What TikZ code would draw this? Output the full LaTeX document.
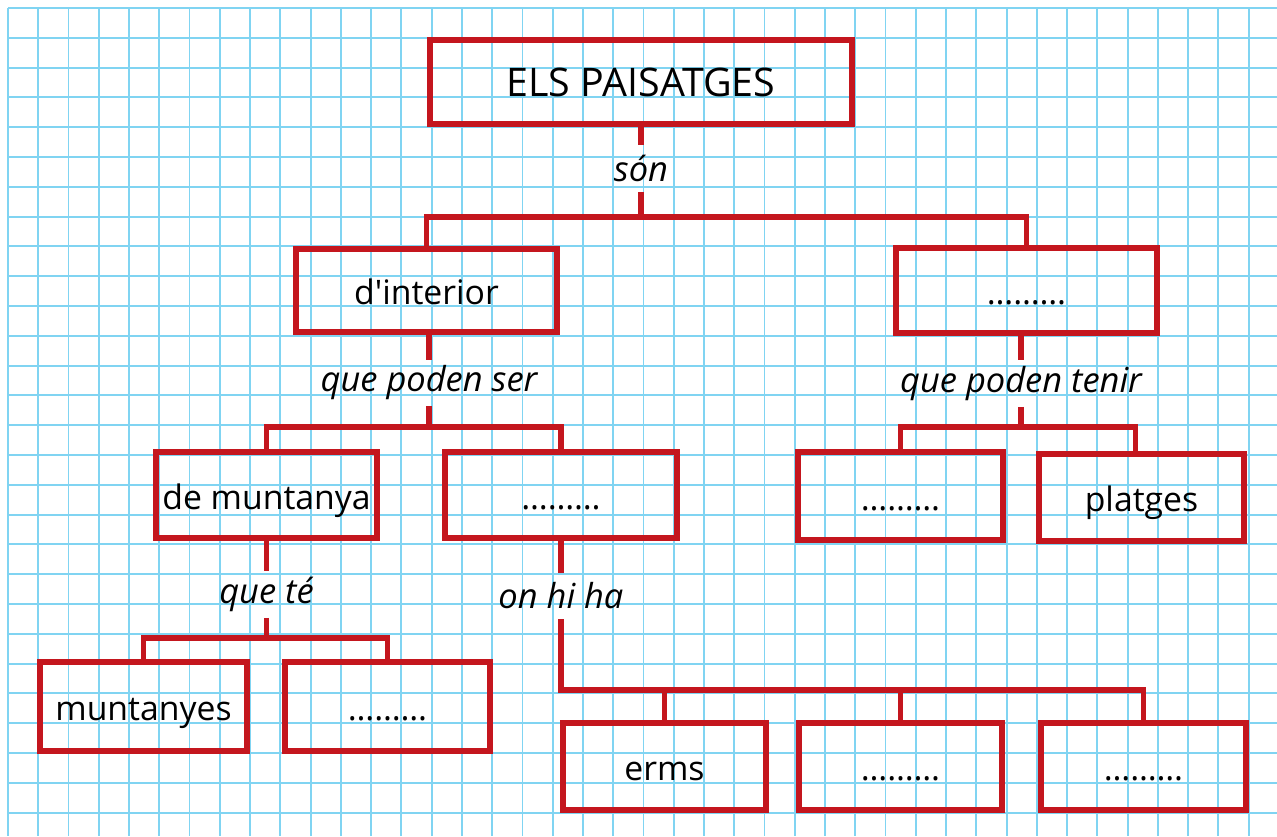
\documentclass[tikz,border=0pt]{standalone}
\usepackage{fontspec}
\setmainfont{Open Sans}
\usepackage{xcolor}
\definecolor{gridblue}{RGB}{128,212,242}
\definecolor{boxred}{RGB}{196,22,30}

\begin{document}
\begin{tikzpicture}[x=0.025cm, y=-0.025cm,
		concept/.style={draw=boxred, line width=4.1pt, inner sep=0pt, align=center, text height=20pt, text depth=0pt, font=\fontsize{24}{28}\selectfont},
		linkword/.style={inner sep=0pt, minimum height=1.15cm, font=\fontsize{24.5}{28}\selectfont\itshape},
		conn/.style={draw=boxred, line width=4.1pt},
		gridline/.style={draw=gridblue, line width=1.3pt}
	]
		\fill[white] (0,0) rectangle (1277,836);
		\useasboundingbox (0,0) rectangle (1277,836);

		% squared paper
		\foreach \i in {0,...,41}
			\draw[gridline] (8+\i*30.26,8) -- (8+\i*30.26,836);
		\foreach \j in {0,...,27}
			\draw[gridline] (8,8+\j*29.8) -- (1277,8+\j*29.8);

		% concepts
		\node[concept, minimum width=10.55cm, minimum height=2.1cm, font=\fontsize{28}{32}\selectfont] (paisatges) at (641,82) {ELS PAISATGES};
		\node[concept, minimum width=6.525cm, minimum height=2.075cm] (interior) at (426.5,290.5) {d\textquotesingle interior};
		\node[concept, minimum width=6.525cm, minimum height=2.125cm] (costa) at (1026.5,290.5) {………};

		\node[concept, minimum width=5.525cm, minimum height=2.15cm] (muntanya) at (266.5,495) {de muntanya};
		\node[concept, minimum width=5.8cm, minimum height=2.15cm] (plana) at (561,495) {………};
		\node[concept, minimum width=5.125cm, minimum height=2.2cm] (costaa) at (900.5,496) {………};
		\node[concept, minimum width=5.125cm, minimum height=2.175cm] (platges) at (1141.5,497.5) {platges};

		\node[concept, minimum width=5.175cm, minimum height=2.225cm] (muntanyes) at (143.5,706.5) {muntanyes};
		\node[concept, minimum width=5.125cm, minimum height=2.225cm] (muntanyesb) at (387.5,706.5) {………};

		\node[concept, minimum width=5.075cm, minimum height=2.175cm] (erms) at (664.5,766.5) {erms};
		\node[concept, minimum width=5.075cm, minimum height=2.175cm] (planab) at (900.5,766.5) {………};
		\node[concept, minimum width=5.125cm, minimum height=2.175cm] (planac) at (1143.5,766.5) {………};

		% linking words
		\node[linkword] (son) at (641,168.5) {són};
		\node[linkword] (ser) at (429,383) {que poden ser};
		\node[linkword] (tenir) at (1021,383.5) {que poden tenir};
		\node[linkword] (te) at (266.5,594.5) {que té};
		\node[linkword] (hiha) at (561,596) {on hi ha};

		\coordinate (sonbar) at (641,217);
		\coordinate (serbar) at (429,427);
		\coordinate (tenirbar) at (1021,427);
		\coordinate (tebar) at (266.5,638);
		\coordinate (hihabar) at (561,690);

		% connectors
		\draw[conn] (paisatges.south) -- (son.north);
		\draw[conn] (son.south) -- (sonbar);
		\draw[conn] (interior.north) |- (sonbar) -| (costa.north);

		\draw[conn] (ser.north |- interior.south) -- (ser.north);
		\draw[conn] (ser.south) -- (serbar);
		\draw[conn] (muntanya.north) |- (serbar) -| (plana.north);

		\draw[conn] (tenir.north |- costa.south) -- (tenir.north);
		\draw[conn] (tenir.south) -- (tenirbar);
		\draw[conn] (costaa.north) |- (tenirbar) -| ([xshift=-0.15cm]platges.north);

		\draw[conn] (muntanya.south) -- (te.north);
		\draw[conn] (te.south) -- (tebar);
		\draw[conn] (muntanyes.north) |- (tebar) -| (muntanyesb.north);

		\draw[conn] (plana.south) -- (hiha.north);
		\draw[conn] (hiha.south) -- (hihabar) -| (planac.north);
		\draw[conn] (erms.north) -- (erms.north |- hihabar);
		\draw[conn] (planab.north) -- (planab.north |- hihabar);

	\end{tikzpicture}
\end{document}
